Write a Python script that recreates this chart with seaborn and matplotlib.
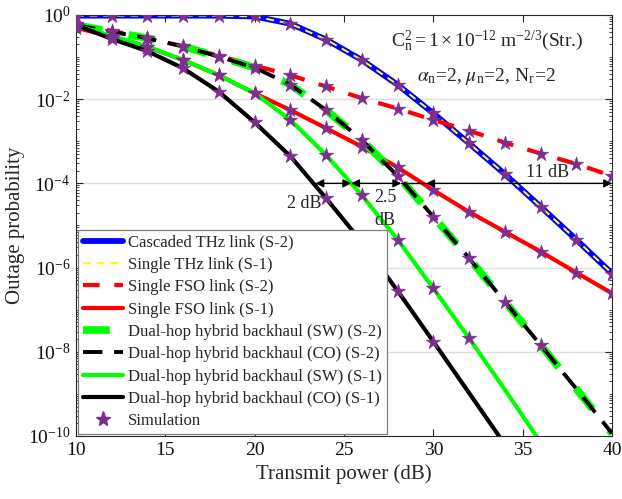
import numpy as np
import pandas as pd
import seaborn as sns
import matplotlib.pyplot as plt
from matplotlib.lines import Line2D
from matplotlib.ticker import FixedLocator, LogLocator, NullFormatter, FuncFormatter

# transmit power (dB)
snr = [10, 12, 14, 16, 18, 20, 22, 24, 26, 28, 30, 32, 34, 36, 38, 40]

# outage probabilities
thz_s2 = [0.965, 0.965, 0.965, 0.965, 0.962, 0.92, 0.62, 0.26, 8.5e-2, 2.2e-2,
          4.6e-3, 8.9e-4, 1.66e-4, 2.8e-5, 4.6e-6, 7.2e-7]
thz_s1 = [0.965, 0.965, 0.965, 0.965, 0.962, 0.92, 0.62, 0.26, 8.5e-2, 2.2e-2,
          4.6e-3, 8.9e-4, 1.66e-4, 2.8e-5, 4.6e-6, 7.2e-7]
fso_s2 = [0.60, 0.42, 0.28, 0.18, 0.107, 6.3e-2, 3.7e-2, 2.0e-2, 1.05e-2, 6.0e-3,
          3.2e-3, 1.78e-3, 9.3e-4, 5.1e-4, 2.9e-4, 1.5e-4]
fso_s1 = [0.50, 0.30, 0.174, 8.5e-2, 3.7e-2, 1.38e-2, 5.5e-3, 2.04e-3, 7.4e-4, 2.4e-4,
          6.9e-5, 2.1e-5, 7.1e-6, 2.4e-6, 7.6e-7, 2.45e-7]
sw_s2 = [0.575, 0.40, 0.28, 0.178, 0.102, 5.6e-2, 2.2e-2, 5.5e-3, 1.07e-3, 1.5e-4,
         1.62e-5, 1.66e-6, 1.55e-7, 1.45e-8, 1.32e-9, 1.15e-10]
co_s2 = [0.575, 0.40, 0.28, 0.178, 0.102, 5.6e-2, 2.2e-2, 5.5e-3, 1.07e-3, 1.5e-4,
         1.62e-5, 1.66e-6, 1.55e-7, 1.45e-8, 1.32e-9, 1.15e-10]
sw_s1 = [0.56, 0.32, 0.178, 8.5e-2, 3.7e-2, 1.38e-2, 3.2e-3, 4.7e-4, 5.2e-5, 4.6e-6,
         3.2e-7, 2.1e-8, 1.26e-9, 7.1e-11, np.nan, np.nan]
co_s1 = [0.575, 0.27, 0.138, 5.4e-2, 1.5e-2, 2.8e-3, 4.4e-4, 4.4e-5, 4.0e-6, 2.8e-7,
         1.74e-8, 1.05e-9, 6.3e-11, np.nan, np.nan, np.nan]

labels = ['Cascaded THz link (S-2)', 'Single THz link (S-1)', 'Single FSO link (S-2)',
          'Single FSO link (S-1)', 'Dual-hop hybrid backhaul (SW) (S-2)',
          'Dual-hop hybrid backhaul (CO) (S-2)', 'Dual-hop hybrid backhaul (SW) (S-1)',
          'Dual-hop hybrid backhaul (CO) (S-1)']

sns.set_theme(style='white', rc={
    'xtick.direction': 'in', 'ytick.direction': 'in',
    'xtick.top': True, 'ytick.right': True,
    'xtick.bottom': True, 'ytick.left': True,
    'axes.edgecolor': '#262626', 'axes.linewidth': 0.8,
    'mathtext.fontset': 'stix',
})
plt.rcParams['font.family'] = ['Liberation Serif', 'DejaVu Serif']

fig, ax = plt.subplots(figsize=(6.22, 4.99), dpi=100)
fig.subplots_adjust(left=0.1222, right=0.984, top=0.970, bottom=0.1263)

purple = '#7E2F8E'
series = [
    (thz_s2, dict(color='#0000ff', lw=4.2, ls='-')),
    (thz_s1, dict(color='#ffff00', lw=1.4, dashes=(4, 3))),
    (fso_s2, dict(color='#ff0000', lw=3.0, dashes=(4, 3.5))),
    (fso_s1, dict(color='#ff0000', lw=3.0, ls='-')),
    (sw_s2, dict(color='#00ff00', lw=5.5, dashes=(3.5, 3.5))),
    (co_s2, dict(color='#000000', lw=2.8, dashes=(5, 3))),
    (sw_s1, dict(color='#00ff00', lw=3.0, ls='-')),
    (co_s1, dict(color='#000000', lw=3.0, ls='-')),
]

for vals, kw in series:
    df = pd.DataFrame({'snr': snr, 'p': vals}).dropna()
    sns.lineplot(data=df, x='snr', y='p', ax=ax, **kw)

# simulation points (only where Monte Carlo reaches)
sim = pd.concat([pd.DataFrame({'snr': snr, 'p': v}) for v in
                 [thz_s2, fso_s2, fso_s1, sw_s2, sw_s1, co_s1]])
sim = sim[sim['p'] > 1e-8]
sns.scatterplot(data=sim, x='snr', y='p', ax=ax, marker='*', s=120, color=purple,
                edgecolor=purple, linewidth=0.4, zorder=5)

ax.set_yscale('log')
ax.set_xlim(10, 40)
ax.set_ylim(1e-10, 1)
ax.xaxis.set_major_locator(FixedLocator([10, 15, 20, 25, 30, 35, 40]))
ax.yaxis.set_major_locator(FixedLocator([1e-10, 1e-8, 1e-6, 1e-4, 1e-2, 1]))
ax.yaxis.set_minor_locator(LogLocator(base=10, subs=np.arange(1, 10), numticks=30))
ax.yaxis.set_minor_formatter(NullFormatter())
ax.yaxis.set_major_formatter(FuncFormatter(
    lambda v, p: '$\\mathregular{10^{%d}}$' % round(np.log10(v))))
ax.tick_params(axis='both', which='major', labelsize=14, length=5, width=0.8,
               colors='#262626', labelcolor='#111111', pad=4)
ax.tick_params(axis='y', which='minor', length=2.5, width=0.6, colors='#262626')
for yv in [1e-2, 1e-4, 1e-6, 1e-8]:
    ax.axhline(yv, color='#dedede', lw=1.0, zorder=0)

ax.set_xlabel('Transmit power (dB)', fontsize=15, labelpad=4)
ax.set_ylabel('Outage probability', fontsize=15, labelpad=2)

# annotations
ax.text(33.0, 10 ** -0.62,
        '$\\mathregular{C_n^2 = 1\\times10^{-12}\\ m^{-2/3}}$(Str.)',
        fontsize=14, ha='center', va='center')
ax.text(33.0, 10 ** -1.45,
        '$\\alpha_\\mathregular{n}$=2, $\\mu_\\mathregular{n}$=2, N$_\\mathregular{r}$=2',
        fontsize=14, ha='center', va='center')

arw = dict(arrowstyle='<|-|>', color='black', lw=1.0, mutation_scale=12,
           shrinkA=0, shrinkB=0)
for x0, x1 in [(23.4, 25.4), (25.4, 28.2), (29.6, 40.0)]:
    ax.annotate('', xy=(x0, 1e-4), xytext=(x1, 1e-4), arrowprops=arw, zorder=6)
ax.plot([28.2, 29.6], [1e-4, 1e-4], color='black', lw=1.0, zorder=6)
ax.text(22.8, 10 ** -4.47, '2 dB', fontsize=13, ha='center', va='center', zorder=7)
ax.text(27.3, 10 ** -4.33, '2.5', fontsize=13, ha='center', va='center', zorder=7)
ax.text(27.3, 10 ** -4.87, 'dB', fontsize=13, ha='center', va='center', zorder=7)
ax.text(36.4, 10 ** -3.75, '11 dB', fontsize=13, ha='center', va='center', zorder=7)

# legend
handles = []
for (vals, kw), lab in zip(series, labels):
    h = Line2D([], [], color=kw['color'], lw=kw['lw'], ls=kw.get('ls', '--'))
    if 'dashes' in kw:
        h.set_dashes(kw['dashes'])
    handles.append(h)
handles.append(Line2D([], [], color=purple, marker='*', ls='none', markersize=11))
leg = ax.legend(handles, labels + ['Simulation'], loc='lower left', fontsize=12,
                frameon=True, fancybox=False, framealpha=1, edgecolor='#7f7f7f',
                borderaxespad=0.1, handlelength=2.4, handletextpad=0.3,
                labelspacing=0.38, borderpad=0.3)
leg.get_frame().set_linewidth(0.9)
leg.set_zorder(10)

fig.savefig('out.png', dpi=100)
